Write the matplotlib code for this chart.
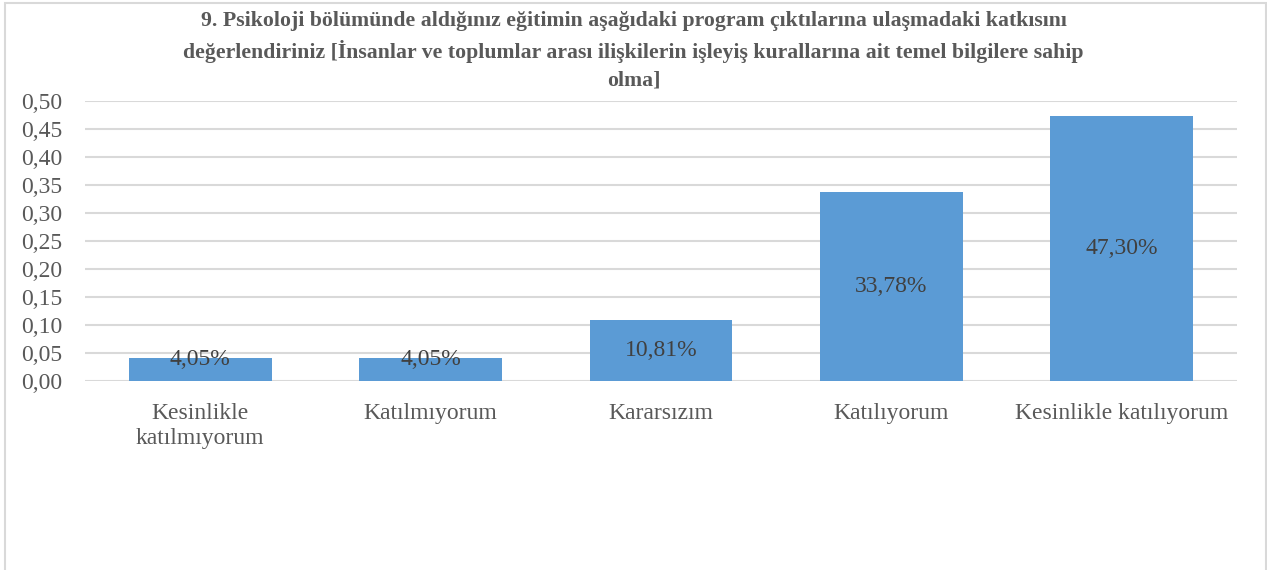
import matplotlib
matplotlib.use("Agg")
import matplotlib.pyplot as plt
from matplotlib.patches import Rectangle

categories = ["Kesinlikle\nkatılmıyorum", "Katılmıyorum", "Kararsızım", "Katılıyorum", "Kesinlikle katılıyorum"]
values = [0.0405, 0.0405, 0.1081, 0.3378, 0.4730]
value_labels = ["4,05%", "4,05%", "10,81%", "33,78%", "47,30%"]
yticks = [0.00, 0.05, 0.10, 0.15, 0.20, 0.25, 0.30, 0.35, 0.40, 0.45, 0.50]
ytick_labels = ["0,00", "0,05", "0,10", "0,15", "0,20", "0,25", "0,30", "0,35", "0,40", "0,45", "0,50"]
title = ("9. Psikoloji bölümünde aldığınız eğitimin aşağıdaki program çıktılarına ulaşmadaki katkısını\n"
         "değerlendiriniz [İnsanlar ve toplumlar arası ilişkilerin işleyiş kurallarına ait temel bilgilere sahip\n"
         "olma]")

plt.rcParams['font.family'] = ['Liberation Serif', 'DejaVu Serif']

W, H = 1267, 570
fig = plt.figure(figsize=(W / 100, H / 100), dpi=100)
fig.patch.set_facecolor("white")

# outer chart border
fig.add_artist(Rectangle((5 / W, -0.05), (1266 - 5) / W, 1.05 - 3 / H,
                         transform=fig.transFigure, fill=False,
                         edgecolor="#D9D9D9", linewidth=1.5))

ax = fig.add_axes([85 / W, 1 - 381 / H, (1237 - 85) / W, (381 - 101) / H])
x = list(range(len(categories)))
ax.bar(x, values, width=0.62, color="#5B9BD5", zorder=3)
ax.set_xlim(-0.5, len(categories) - 0.5)
ax.set_ylim(0, 0.5)
ax.set_yticks(yticks)
ax.set_yticklabels(ytick_labels)
ax.set_xticks(x)
ax.set_xticklabels(categories, linespacing=1.25)
ax.tick_params(axis="y", length=0, pad=16.5, labelsize=17, labelcolor="#595959")
ax.tick_params(axis="x", length=0, pad=16, labelsize=17, labelcolor="#595959")
for s in ax.spines.values():
    s.set_visible(False)
ax.grid(axis="y", color="#D9D9D9", linewidth=1.5, zorder=0)
ax.set_axisbelow(True)

for xi, v, lab in zip(x, values, value_labels):
    ax.text(xi, max(v / 2, 0.039), lab, ha="center", va="center",
            fontsize=17, color="#404040", zorder=4)

fig.text(0.5, 1 - 11 / H, title, ha="center", va="top",
         fontsize=15.7, fontweight="bold", color="#595959", linespacing=1.5)

fig.savefig("out.png", dpi=100)
